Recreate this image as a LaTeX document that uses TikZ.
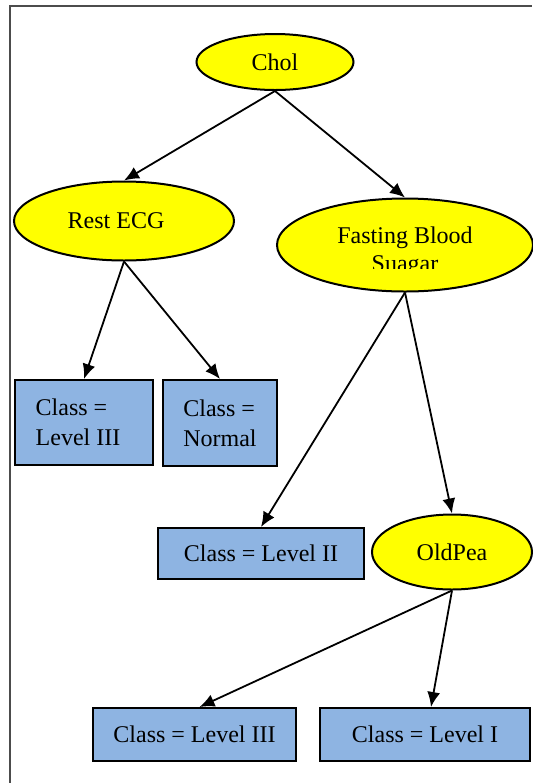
\documentclass[tikz,border=0pt]{standalone}
\usepackage{fontspec}
\setmainfont{Liberation Serif}
\usetikzlibrary{shapes.geometric,arrows.meta}
\definecolor{splityellow}{RGB}{255,255,0}
\definecolor{leafblue}{RGB}{142,180,226}
\tikzset{
  every node/.style={font=\fontsize{12}{15}\selectfont},
  split/.style={ellipse,draw=black,line width=1pt,fill=splityellow,inner sep=0pt},
  leaf/.style={rectangle,draw=black,line width=1pt,fill=leafblue,inner sep=0pt,align=left},
  branch/.style={black,line width=0.9pt,-{Latex[length=7.5pt,width=6.5pt]}}
}

\begin{document}
\begin{tikzpicture}[x=0.5pt,y=-0.5pt]
\useasboundingbox (0,0) rectangle (532,783);
% frame
\draw[gray!60!black, line width=0.6pt] (10,783) -- (10,6) -- (532,6);
% split nodes
\node[split, minimum width=78.5pt, minimum height=28pt] (chol) at (275,62) {Chol};
\node[split, minimum width=110pt, minimum height=39.5pt] (restecg) at (124,221) {Rest ECG\hspace*{8pt}};
\node[split, minimum width=128pt, minimum height=46.5pt] (fbs) at (405,245) {};
\begin{scope}
\clip (277,198) rectangle (533,268);
\node[align=center, font=\fontsize{12}{14}\selectfont] (fbstext) at (405,252) {Fasting Blood\\Suagar};
\end{scope}
\node[split, minimum width=80pt, minimum height=37.5pt] (oldpea) at (452,552) {OldPea};
% leaves
\node[leaf, minimum width=69pt, minimum height=42.5pt] (leveliiia) at (84,422.5) {Class =\\Level III\hspace*{6pt}};
\node[leaf, minimum width=57pt, minimum height=43pt] (normal) at (220,423) {Class =\\Normal};
\node[leaf, minimum width=103pt, minimum height=25.5pt] (levelii) at (261,553.5) {Class = Level II};
\node[leaf, minimum width=101.5pt, minimum height=26.5pt] (leveliiib) at (194.5,734.5) {Class = Level III};
\node[leaf, minimum width=105pt, minimum height=26.5pt] (leveli) at (425,734.5) {Class = Level I};
% branches
\draw[branch] (chol.south) -- (restecg.north);
\draw[branch] (chol.south) -- (fbs.north);
\draw[branch] (restecg.south) -- (leveliiia.north);
\draw[branch] (restecg.south) -- (normal.north);
\draw[branch] (fbs.south) -- (levelii.north);
\draw[branch] (fbs.south) -- (oldpea.north);
\draw[branch] (oldpea.south) -- ([xshift=2.5pt]leveliiib.north);
\draw[branch] (oldpea.south) -- ([xshift=3pt]leveli.north);
\end{tikzpicture}
\end{document}
